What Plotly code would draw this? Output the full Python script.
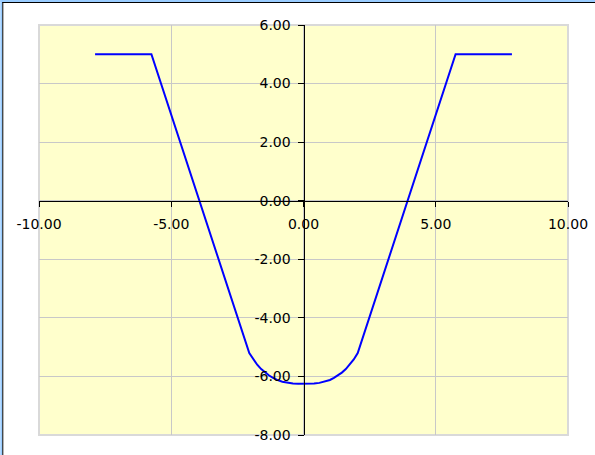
import plotly.graph_objects as go

# Curve points
x_vals = [-7.88, -5.75, -2.05, -1.9, -1.75, -1.6, -1.45, -1.3, -1.15, -1.0, -0.8, -0.6,
          -0.4, -0.2, 0.0, 0.2, 0.4, 0.6, 0.8, 1.0, 1.15, 1.3, 1.45, 1.6, 1.75, 1.9,
          2.05, 5.75, 7.88]
y_vals = [5.0, 5.0, -5.2, -5.42, -5.6, -5.75, -5.87, -5.97, -6.05, -6.12, -6.18, -6.22,
          -6.24, -6.25, -6.25, -6.25, -6.24, -6.22, -6.18, -6.12, -6.05, -5.97, -5.87,
          -5.75, -5.6, -5.42, -5.2, 5.0, 5.0]

x_ticks = [-10, -5, 0, 5, 10]
x_tick_labels = ["-10.00", "-5.00", "0.00", "5.00", "10.00"]
y_ticks = [-8, -6, -4, -2, 0, 2, 4, 6]
y_tick_labels = ["-8.00", "-6.00", "-4.00", "-2.00", "0.00", "2.00", "4.00", "6.00"]

W, H = 595, 455
ML, MR, MT, MB = 38.7, 27.3, 25, 20
pw, ph = W - ML - MR, H - MT - MB

fig = go.Figure()
fig.add_trace(go.Scatter(x=x_vals, y=y_vals, mode="lines",
                         line=dict(color="#0000ff", width=2), hoverinfo="skip"))

font = dict(family="DejaVu Sans", size=14, color="#000000")
fig.update_layout(
    width=W, height=H, autosize=False,
    margin=dict(l=ML, r=MR, t=MT, b=MB, pad=0, autoexpand=False),
    paper_bgcolor="#ffffff",
    plot_bgcolor="#ffffcc",
    showlegend=False,
    xaxis=dict(range=[-10, 10], tickvals=x_ticks, ticktext=x_tick_labels,
               showgrid=True, gridcolor="#c8c8c8", gridwidth=1, zeroline=False,
               showline=True, linecolor="#000000", linewidth=1,
               ticks="outside", ticklen=5, tickcolor="#000000",
               anchor="free", position=8 / 14, tickfont=font,
               ticklabelstandoff=5, automargin=False),
    yaxis=dict(range=[-8, 6], tickvals=y_ticks, ticktext=y_tick_labels,
               showgrid=True, gridcolor="#c8c8c8", gridwidth=1, zeroline=False,
               showline=True, linecolor="#000000", linewidth=1,
               ticks="outside", ticklen=6, tickcolor="#000000",
               anchor="free", position=0.5, tickfont=font,
               ticklabelstandoff=4, automargin=False),
)

# plot-area border
fig.add_shape(type="rect", xref="paper", yref="paper", x0=0, x1=1, y0=0, y1=1,
              line=dict(color="#d9d9d9", width=2), layer="below")

# window frame on top and left edges: light blue outside, dark line inside
left = -ML / pw
top = 1 + MT / ph
right = 1 + MR / pw
bottom = -MB / ph
fig.add_shape(type="line", xref="paper", yref="paper", x0=left, x1=right,
              y0=top - 1.0 / ph, y1=top - 1.0 / ph, line=dict(color="#99ccff", width=2))
fig.add_shape(type="line", xref="paper", yref="paper", x0=left + 1.0 / pw, x1=left + 1.0 / pw,
              y0=bottom, y1=top, line=dict(color="#99ccff", width=2))
fig.add_shape(type="line", xref="paper", yref="paper", x0=left + 2 / pw, x1=right,
              y0=top - 2.5 / ph, y1=top - 2.5 / ph, line=dict(color="#000000", width=1))
fig.add_shape(type="line", xref="paper", yref="paper", x0=left + 2.5 / pw, x1=left + 2.5 / pw,
              y0=bottom, y1=top - 2 / ph, line=dict(color="#000000", width=1))

fig.write_html("out.html", config={"displayModeBar": False, "responsive": False},
               post_script="document.body.style.margin='0';document.body.style.overflow='hidden';")
